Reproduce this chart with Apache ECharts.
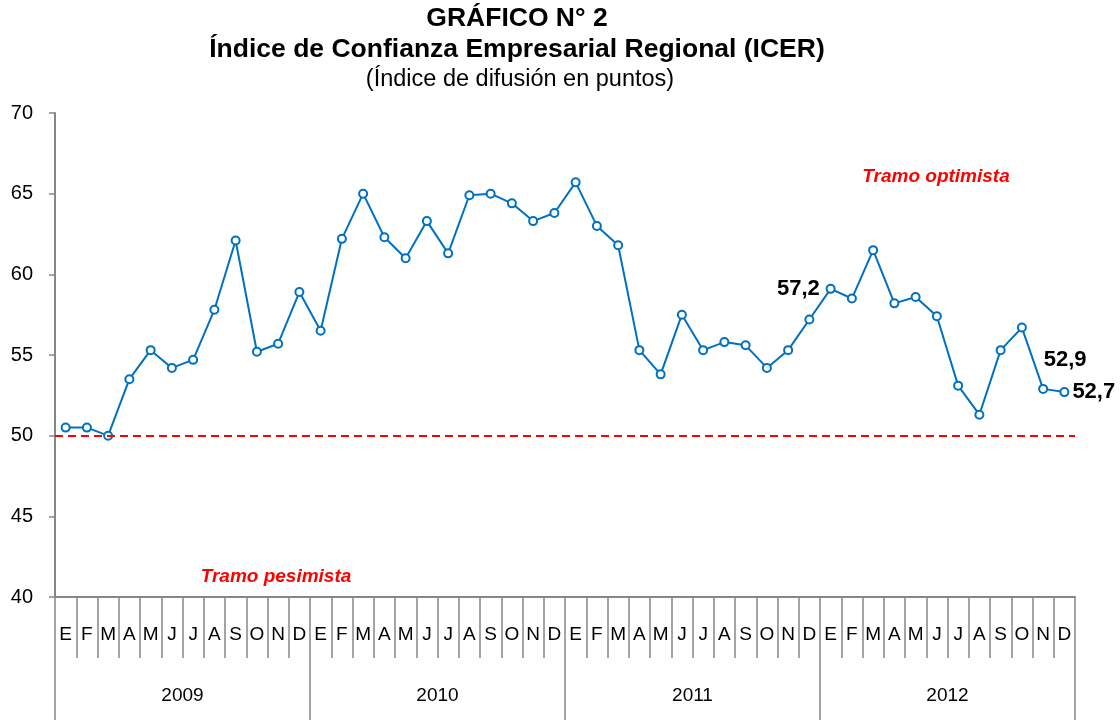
<!DOCTYPE html>
<html>
<head>
<meta charset="utf-8">
<script src="https://cdn.jsdelivr.net/npm/echarts@6/dist/echarts.min.js"></script>
<style>
  html, body { margin: 0; padding: 0; background: #fff; }
  #chart { width: 1120px; height: 720px; }
</style>
</head>
<body>
<div id="chart"></div>
<script>
// monthly categories (2009-2012), year groups and ICER values
const months = ['E','F','M','A','M','J','J','A','S','O','N','D',
  'E','F','M','A','M','J','J','A','S','O','N','D',
  'E','F','M','A','M','J','J','A','S','O','N','D',
  'E','F','M','A','M','J','J','A','S','O','N','D']
const years = ['2009', '2010', '2011', '2012']
const icer = [
  50.5, 50.5, 50.0, 53.5, 55.3, 54.2, 54.7, 57.8, 62.1, 55.2, 55.7, 58.9,
  56.5, 62.2, 65.0, 62.3, 61.0, 63.3, 61.3, 64.9, 65.0, 64.4, 63.3, 63.8,
  65.7, 63.0, 61.8, 55.3, 53.8, 57.5, 55.3, 55.8, 55.6, 54.2, 55.3, 57.2,
  59.1, 58.5, 61.5, 58.2, 58.6, 57.4, 53.1, 51.3, 55.3, 56.7, 52.9, 52.7
]
const yTicks = [40, 45, 50, 55, 60, 65, 70]
const neutral = 50
const labelled = [35, 46, 47]

const lineColor = '#0070c0'
const axisGray = '#868686'
const font = 'Liberation Sans, Arial, sans-serif'

// where each highlighted value label sits relative to its point
const labelPlace = {
  35: { position: 'top', offset: [-11, -10] },
  46: { position: 'top', offset: [22, -8] },
  47: { position: 'right', distance: 3, offset: [0, 0] },
}

const chart = echarts.init(document.getElementById('chart'))

chart.setOption({
  backgroundColor: '#fff',
  animation: false,
  graphic: [
    { type: 'text', x: 517, y: 5, style: { text: 'GRÁFICO N° 2', font: 'bold 26.5px ' + font, fill: '#000', textAlign: 'center' } },
    { type: 'text', x: 517, y: 36, style: { text: 'Índice de Confianza Empresarial Regional (ICER)', font: 'bold 26.5px ' + font, fill: '#000', textAlign: 'center' } },
    { type: 'text', x: 520, y: 68, style: { text: '(Índice de difusión en puntos)', font: '23.5px ' + font, fill: '#000', textAlign: 'center' } },
    { type: 'text', x: 936, y: 177, style: { text: 'Tramo optimista', font: 'italic bold 19px ' + font, fill: '#ff0000', textAlign: 'center', textVerticalAlign: 'middle' } },
    { type: 'text', x: 276, y: 577, style: { text: 'Tramo pesimista', font: 'italic bold 19px ' + font, fill: '#ff0000', textAlign: 'center', textVerticalAlign: 'middle' } },
  ],
  grid: { left: 55, right: 45, top: 113, bottom: 123 },
  xAxis: [
    {
      type: 'category',
      data: months,
      boundaryGap: true,
      axisLine: { lineStyle: { color: axisGray, width: 2 } },
      axisTick: { show: true, interval: 0, length: 61, lineStyle: { color: axisGray, width: 1.5 } },
      axisLabel: { interval: 0, margin: 28, color: '#000', fontSize: 19, fontFamily: font },
      splitLine: { show: false },
    },
    {
      type: 'category',
      data: years,
      position: 'bottom',
      boundaryGap: true,
      axisLine: { show: false },
      axisTick: { show: true, interval: 0, length: 123, lineStyle: { color: axisGray, width: 1.5 } },
      axisLabel: { interval: 0, margin: 89, color: '#000', fontSize: 19, fontFamily: font },
      splitLine: { show: false },
    },
  ],
  yAxis: {
    type: 'value',
    min: yTicks[0],
    max: yTicks[yTicks.length - 1],
    interval: 5,
    axisLine: { show: true, lineStyle: { color: axisGray, width: 2 } },
    axisTick: { show: true, length: 6, lineStyle: { color: axisGray, width: 1.5 } },
    axisLabel: { margin: 22, color: '#000', fontSize: 20, fontFamily: font },
    splitLine: { show: false },
  },
  series: [
    {
      type: 'line',
      data: icer.map((v, i) => {
        if (!labelled.includes(i)) return v
        return {
          value: v,
          label: Object.assign({
            show: true,
            color: '#000',
            fontSize: 22,
            fontWeight: 'bold',
            fontFamily: font,
            formatter: p => p.value.toFixed(1).replace('.', ','),
          }, labelPlace[i]),
        }
      }),
      symbol: 'emptyCircle',
      symbolSize: 8,
      lineStyle: { color: lineColor, width: 2 },
      itemStyle: { color: lineColor, borderWidth: 2 },
      markLine: {
        silent: true,
        symbol: 'none',
        label: { show: false },
        lineStyle: { color: '#ff0000', type: [8, 5], width: 2 },
        data: [{ yAxis: neutral }],
      },
    },
  ],
})
</script>
</body>
</html>
